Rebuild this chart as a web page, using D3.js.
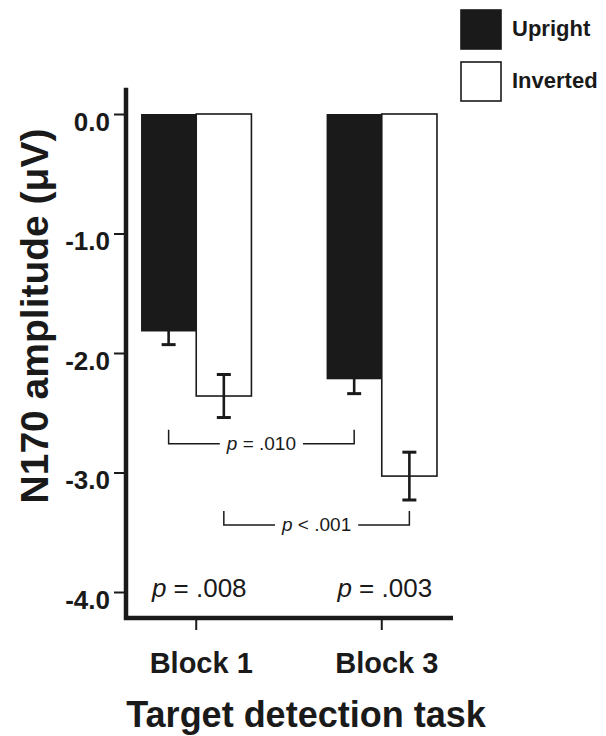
<!DOCTYPE html>
<html>
<head>
<meta charset="utf-8">
<script src="https://cdn.jsdelivr.net/npm/d3@7"></script>
<style>
  body { margin: 0; background: #fff; }
  svg { display: block; font-family: "Liberation Sans", Arial, Helvetica, sans-serif; }
</style>
</head>
<body>
<svg id="chart" width="606" height="736"></svg>
<script>
// N170 amplitude by block and face orientation
const blocks = ["Block 1", "Block 3"];
const conditions = ["Upright", "Inverted"];
const meanUpright = [-1.82, -2.22];
const meanInverted = [-2.36, -3.03];
const seUpright = [0.11, 0.12];
const seInverted = [0.18, 0.20];
const yTicks = [0, -1, -2, -3, -4];

// orientation effect within each block
const withinBlockP = ["= .008", "= .003"];
// block effect within each orientation
const acrossBlockCondition = ["Upright", "Inverted"];
const acrossBlockP = ["= .010", "< .001"];
const acrossBlockLevel = [-2.76, -3.44];

const ink = "#1a1a1a";
const svg = d3.select("#chart");

const x0 = d3.scaleBand().domain(blocks).range([126, 452])
  .paddingInner(0.405).paddingOuter(0.081);
const x1 = d3.scaleBand().domain(conditions).range([0, x0.bandwidth()]);
const y = d3.scaleLinear().domain([0, -4]).range([114, 592]);

const rows = [];
blocks.forEach((b, i) => {
  rows.push({ block: b, cond: "Upright", mean: meanUpright[i], se: seUpright[i] });
  rows.push({ block: b, cond: "Inverted", mean: meanInverted[i], se: seInverted[i] });
});
const cx = (b, c) => x0(b) + x1(c) + x1.bandwidth() / 2;

// bars
svg.append("g").selectAll("rect").data(rows).join("rect")
  .attr("x", d => x0(d.block) + x1(d.cond))
  .attr("y", y(0))
  .attr("width", x1.bandwidth())
  .attr("height", d => y(d.mean) - y(0))
  .attr("fill", d => d.cond === "Upright" ? ink : "#fff")
  .attr("stroke", ink)
  .attr("stroke-width", d => d.cond === "Upright" ? 0 : 1.6);

// error bars (±SE)
const eb = svg.append("g").attr("stroke", ink).attr("stroke-width", 2.6).attr("fill", "none");
rows.forEach(d => {
  const x = cx(d.block, d.cond);
  const yTop = y(d.mean + d.se), yBot = y(d.mean - d.se);
  eb.append("line").attr("x1", x).attr("x2", x).attr("y1", yTop).attr("y2", yBot);
  eb.append("line").attr("x1", x - 7).attr("x2", x + 7).attr("y1", yTop).attr("y2", yTop).attr("stroke-width", 3);
  eb.append("line").attr("x1", x - 7).attr("x2", x + 7).attr("y1", yBot).attr("y2", yBot).attr("stroke-width", 3);
});

// y axis
const yAxis = svg.append("g").attr("transform", "translate(126,0)")
  .call(d3.axisLeft(y).tickValues(yTicks).tickFormat(d => d.toFixed(1)).tickSize(12).tickPadding(4));
yAxis.select(".domain").remove();
yAxis.selectAll(".tick line").attr("stroke", ink).attr("stroke-width", 2);
yAxis.selectAll(".tick text")
  .attr("fill", ink).attr("font-size", 26).attr("font-weight", "bold")
  .attr("font-family", "Liberation Sans, Arial, sans-serif")
  .attr("dy", "0.62em");

// x axis
const xAxis = svg.append("g").attr("transform", "translate(0,618)")
  .call(d3.axisBottom(x0).tickSize(12).tickPadding(22));
xAxis.select(".domain").remove();
xAxis.selectAll(".tick line").attr("stroke", ink).attr("stroke-width", 2);
xAxis.selectAll(".tick text")
  .attr("fill", ink).attr("font-size", 29).attr("font-weight", "bold")
  .attr("font-family", "Liberation Sans, Arial, sans-serif")
  .attr("dx", 5);

// axis lines
svg.append("line").attr("x1", 126).attr("x2", 126).attr("y1", y(0.22)).attr("y2", 620)
  .attr("stroke", ink).attr("stroke-width", 4.5);
svg.append("line").attr("x1", 124).attr("x2", 453).attr("y1", 618).attr("y2", 618)
  .attr("stroke", ink).attr("stroke-width", 4.5);

// axis titles
svg.append("text").attr("transform", "translate(48,316) rotate(-90)")
  .attr("text-anchor", "middle").attr("font-size", 39).attr("font-weight", "bold")
  .attr("fill", ink).text("N170 amplitude (\u03BCV)");
svg.append("text").attr("x", 306).attr("y", 727)
  .attr("text-anchor", "middle").attr("font-size", 36).attr("font-weight", "bold")
  .attr("fill", ink).text("Target detection task");

// legend
const legend = svg.append("g");
conditions.forEach((c, i) => {
  const top = 10 + i * 52;
  legend.append("rect").attr("x", 461).attr("y", top).attr("width", 40).attr("height", 39)
    .attr("fill", c === "Upright" ? ink : "#fff")
    .attr("stroke", ink).attr("stroke-width", 1.6);
  legend.append("text").attr("x", 512).attr("y", top + 26)
    .attr("font-size", 22).attr("font-weight", "bold").attr("fill", ink).text(c);
});

// p-value label helper: italic p followed by the statistic
function pLabel(g, x, yPos, size, rest) {
  const t = g.append("text").attr("x", x).attr("y", yPos)
    .attr("text-anchor", "middle").attr("font-size", size).attr("fill", ink);
  t.append("tspan").attr("font-style", "italic").text("p");
  t.append("tspan").text(" " + rest);
  return t;
}

// within-block comparisons
const pw = svg.append("g");
blocks.forEach((b, i) => {
  pLabel(pw, x0(b) + x0.bandwidth() / 2 + 3, 597, 26, withinBlockP[i]);
});

// across-block brackets
const br = svg.append("g");
acrossBlockCondition.forEach((c, i) => {
  const xl = cx(blocks[0], c), xr = cx(blocks[1], c);
  const yy = y(acrossBlockLevel[i]);
  const mid = (xl + xr) / 2;
  const t = pLabel(br, mid, yy + 6, 19, acrossBlockP[i]);
  const half = t.node().getComputedTextLength() / 2 + 7;
  br.append("path")
    .attr("d", `M${xl},${yy - 14}V${yy}H${mid - half}M${mid + half},${yy}H${xr}V${yy - 14}`)
    .attr("fill", "none").attr("stroke", ink).attr("stroke-width", 1.5);
});
</script>
</body>
</html>
